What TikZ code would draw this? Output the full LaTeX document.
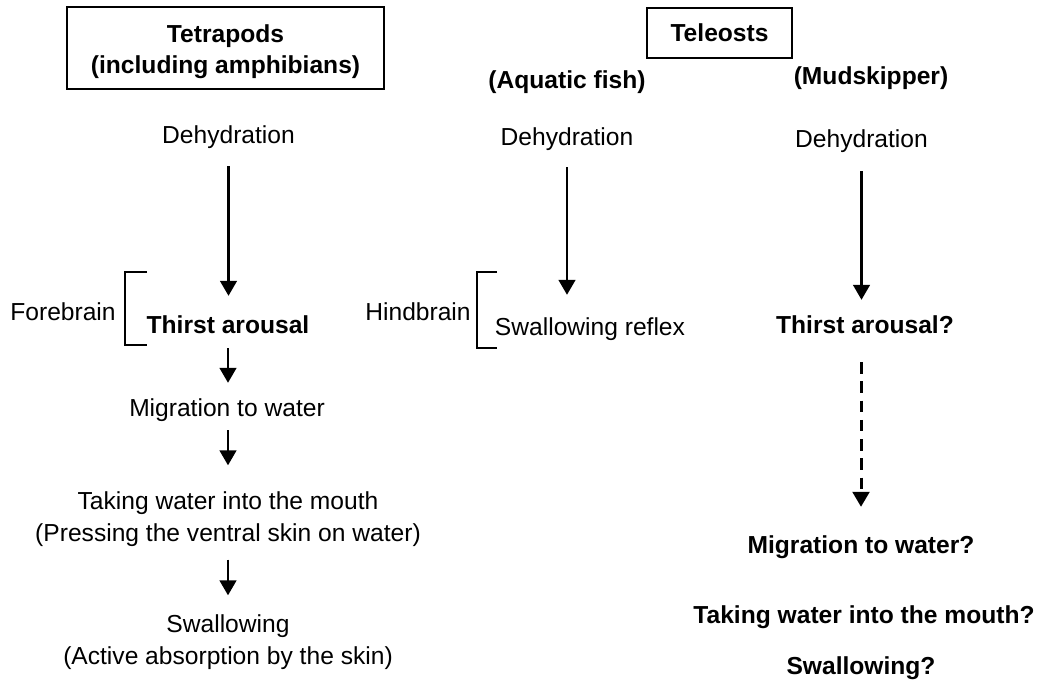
\documentclass[tikz,border=0pt]{standalone}
\usepackage{fontspec}
\setmainfont{Liberation Sans}
\usetikzlibrary{arrows.meta,positioning}
\tikzstyle{arrow} = [line width=1.3pt,-{Triangle[length=8.5pt,width=9.5pt]},draw=black]
\tikzstyle{dasharrow} = [arrow,line width=1.7pt,dash pattern=on 0.23cm off 0.155cm]
\tikzstyle{txt} = [inner sep=0pt,text height=10.1pt,text depth=0pt,font=\fontsize{14pt}{17pt}\selectfont]
\tikzstyle{btxt} = [txt,font=\fontsize{14pt}{17pt}\selectfont\bfseries]
\tikzstyle{box} = [draw,line width=1.1pt,align=center,inner sep=0pt,font=\fontsize{14pt}{17.6pt}\selectfont\bfseries]
\tikzstyle{brak} = [line width=0.75pt]

\begin{document}
\begin{tikzpicture}[x=0.02cm,y=-0.02cm]
    \useasboundingbox (0,0) rectangle (1040,681);

    % headings
    \node[box,minimum width=6.34cm,minimum height=1.64cm] (tet) at (225.5,48) {\rule{0pt}{14.5pt}Tetrapods\\(including amphibians)};
    \node[box,minimum width=2.9cm,minimum height=1cm]     (tel) at (719.5,33) {Teleosts};
    \node[btxt] (aq)  at (567,80) {(Aquatic fish)};
    \node[btxt] (mud) at (871,76) {(Mudskipper)};

    % tetrapods
    \node[txt]  (L1) at (228.5,135)  {Dehydration};
    \node[btxt] (L2) at (228,325)    {Thirst arousal};
    \node[txt]  (L3) at (227,407.5)  {Migration to water};
    \node[txt]  (L4) at (228,500.5)  {Taking water into the mouth};
    \node[txt]  (L5) [below=0.27cm of L4] {(Pressing the ventral skin on water)};
    \node[txt]  (L6) at (228,624)    {Swallowing};
    \node[txt]  (L7) [below=0.27cm of L6] {(Active absorption by the skin)};
    \node[txt]  (fore) at (63,312)   {Forebrain};

    % aquatic fish
    \node[txt]  (M1) at (567,137)    {Dehydration};
    \node[txt]  (M2) at (590,327)    {Swallowing reflex};
    \node[txt]  (hind) at (418,312)  {Hindbrain};

    % mudskipper
    \node[txt]  (R1) at (861.5,139)  {Dehydration};
    \node[btxt] (R2) at (865,325)    {Thirst arousal?};
    \node[btxt] (R3) at (861,545)    {Migration to water?};
    \node[btxt] (R4) at (864,615)    {Taking water into the mouth?};
    \node[btxt] (R5) at (861,666)    {Swallowing?};

    % brackets
    \draw[brak] (147,272) -- (125,272) -- (125,345) -- (147,345);
    \draw[brak] (497,272) -- (477,272) -- (477,348) -- (497,348);

    \draw[arrow,shorten <=.44cm,shorten >=.40cm] (L1.south) -- (L1.south |- L2.north);
    \draw[arrow,shorten <=.28cm,shorten >=.31cm] (L2.south) -- (L2.south |- L3.north);
    \draw[arrow,shorten <=.27cm,shorten >=.52cm] (L3.south -| L4.north) -- (L4.north);
    \draw[arrow,shorten <=.36cm,shorten >=.39cm] (L5.south) -- (L5.south |- L6.north);
    \draw[arrow,shorten <=.42cm,shorten >=.46cm] (M1.south) -- (M1.south |- M2.north);
    \draw[arrow,shorten <=.46cm,shorten >=.32cm] (R1.south) -- (R1.south |- R2.north);
    \draw[dasharrow,shorten <=.56cm,shorten >=.58cm] (R2.south -| R3.north) -- (R3.north);

\end{tikzpicture}
\end{document}
